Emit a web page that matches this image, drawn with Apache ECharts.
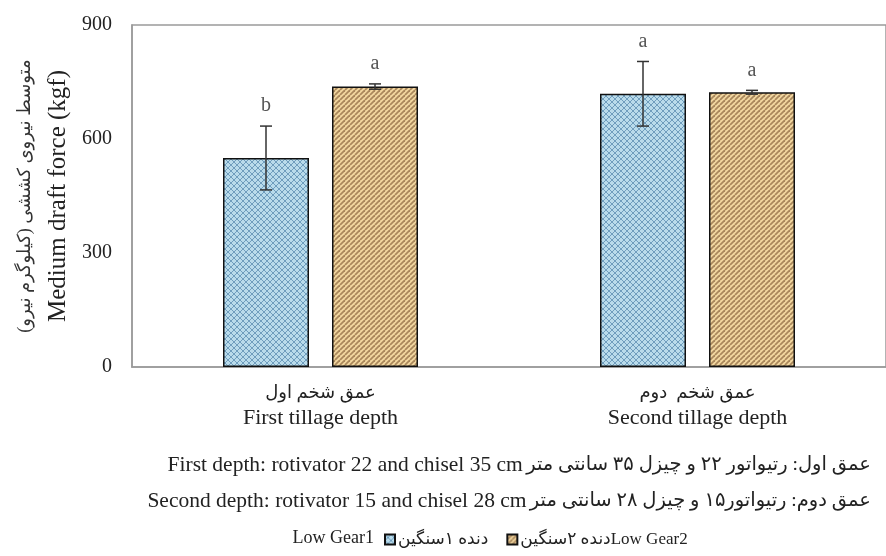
<!DOCTYPE html>
<html>
<head>
<meta charset="utf-8">
<script src="https://cdn.jsdelivr.net/npm/echarts@6/dist/echarts.min.js"></script>
<style>
  html, body { margin: 0; padding: 0; background: #fff; }
  #chart { width: 886px; height: 556px; }
</style>
</head>
<body>
<div id="chart"></div>
<script>
// Draft force per tillage depth, two gear settings
const categoriesFa = ['عمق شخم اول', 'عمق شخم  دوم'];
const categoriesEn = ['First tillage depth', 'Second tillage depth'];
const gear1Mean = [550, 719];
const gear1Err = [84, 85];
const gear2Mean = [738, 723];
const gear2Err = [7, 5];
const gear1Letters = ['b', 'a'];
const gear2Letters = ['a', 'a'];
const yTicks = [0, 300, 600, 900];

const SERIF = '"Liberation Serif", "Times New Roman", "DejaVu Sans", serif';
const BAR_W = 86;
const BAR_GAP = 23;

// Fill textures for the bars
function blueTexture() {
  const c = document.createElement('canvas');
  c.width = 6; c.height = 6;
  const g = c.getContext('2d');
  g.fillStyle = '#b9dbeb';
  g.fillRect(0, 0, 6, 6);
  g.fillStyle = '#6f9dbd';
  // diamond lattice
  const pts = [[0,0],[3,3],[1,1],[2,2],[4,4],[5,5],[0,5],[1,4],[2,3],[4,1],[5,0],[3,2]];
  pts.forEach(p => g.fillRect(p[0], p[1], 1, 1));
  return c;
}
function tanTexture() {
  const c = document.createElement('canvas');
  c.width = 5; c.height = 5;
  const g = c.getContext('2d');
  g.fillStyle = '#f2d7a0';
  g.fillRect(0, 0, 5, 5);
  g.strokeStyle = '#a9875c';
  g.lineWidth = 1.8;
  for (let k = -5; k <= 10; k += 5) {
    g.beginPath();
    g.moveTo(k, 5);
    g.lineTo(k + 5, 0);
    g.stroke();
  }
  return c;
}
const blueFill = { image: blueTexture(), repeat: 'repeat' };
const tanFill = { image: tanTexture(), repeat: 'repeat' };

function errorSeries(name, means, errs, letters, side) {
  return {
    type: 'custom',
    name: name + ' err',
    z: 5,
    silent: true,
    data: means.map((m, i) => [i, m, errs[i]]),
    renderItem: function (params, api) {
      const i = api.value(0);
      const m = api.value(1);
      const e = api.value(2);
      const dx = side * (BAR_W + BAR_GAP) / 2;
      const top = api.coord([i, m + e]);
      const bot = api.coord([i, m - e]);
      const x = top[0] + dx;
      const cap = 6;
      const st = { stroke: '#333', lineWidth: 1.5 };
      return {
        type: 'group',
        children: [
          { type: 'line', shape: { x1: x, y1: top[1], x2: x, y2: bot[1] }, style: st },
          { type: 'line', shape: { x1: x - cap, y1: top[1], x2: x + cap, y2: top[1] }, style: st },
          { type: 'line', shape: { x1: x - cap, y1: bot[1], x2: x + cap, y2: bot[1] }, style: st },
          { type: 'text', style: {
              text: letters[params.dataIndex], x: x, y: top[1] - 20,
              align: 'center', verticalAlign: 'middle',
              font: '20px ' + SERIF, fill: '#555' } }
        ]
      };
    }
  };
}

function noteLine(en, fa, y) {
  return {
    type: 'text', x: 871, y: y,
    style: {
      text: '{en|' + en + '} {fa|' + fa + '}',
      align: 'right', verticalAlign: 'middle',
      rich: {
        en: { fontFamily: SERIF, fontSize: 21.5, fill: '#222' },
        fa: { fontFamily: SERIF, fontSize: 19.5, fill: '#222' }
      }
    }
  };
}

const chart = echarts.init(document.getElementById('chart'), null, { renderer: 'canvas' });
chart.setOption({
  backgroundColor: '#fff',
  animation: false,
  grid: {
    left: 132, top: 25, width: 764, height: 342,
    show: true, borderColor: '#9a9a9a', borderWidth: 1.5, backgroundColor: 'transparent'
  },
  xAxis: {
    type: 'category',
    data: categoriesEn,
    axisLine: { show: true, lineStyle: { color: '#9a9a9a', width: 1.5 } },
    axisTick: { show: false },
    axisLabel: {
      margin: 14,
      formatter: function (v, idx) {
        return '{fa|' + categoriesFa[idx] + '}\n{en|' + v + '}';
      },
      rich: {
        fa: { fontFamily: SERIF, fontSize: 18, color: '#222', lineHeight: 24 },
        en: { fontFamily: SERIF, fontSize: 22, color: '#222', lineHeight: 26 }
      }
    }
  },
  yAxis: {
    type: 'value',
    min: yTicks[0], max: yTicks[yTicks.length - 1], interval: 300,
    splitLine: { show: false },
    axisLine: { show: true, lineStyle: { color: '#9a9a9a', width: 1.5 } },
    axisTick: { show: false },
    axisLabel: { fontFamily: SERIF, fontSize: 20, color: '#222', margin: 20 },
    name: '{fa|متوسط نیروی کششی (کیلوگرم نیرو)}\n{en|Medium draft force (kgf)}',
    nameLocation: 'middle',
    nameRotate: 90,
    nameGap: 56,
    nameTextStyle: {
      rich: {
        fa: { fontFamily: SERIF, fontSize: 18, color: '#333', lineHeight: 36 },
        en: { fontFamily: SERIF, fontSize: 25, color: '#222', lineHeight: 30 }
      }
    }
  },
  legend: {
    data: ['Low Gear1', 'Low Gear2'],
    left: 379, top: 526,
    align: 'left',
    icon: 'rect',
    itemWidth: 10, itemHeight: 10, itemGap: 18,
    formatter: function (n) {
      return n === 'Low Gear1' ? 'دنده ۱سنگین' : 'دنده ۲سنگینLow Gear2';
    },
    textStyle: { fontFamily: SERIF, fontSize: 17, color: '#222', padding: [0, 0, 0, -2] }
  },
  graphic: [
    { type: 'text', x: 374, y: 538,
      style: { text: 'Low Gear1', font: '18px ' + SERIF, fill: '#222', align: 'right', verticalAlign: 'middle' } },
    noteLine('First depth: rotivator 22 and chisel 35 cm', 'عمق اول: رتیواتور ۲۲ و چیزل ۳۵ سانتی متر', 465),
    noteLine('Second depth: rotivator 15 and chisel 28 cm', 'عمق دوم: رتیواتور۱۵ و چیزل ۲۸ سانتی متر', 501)
  ],
  series: [
    {
      name: 'Low Gear1', type: 'bar', data: gear1Mean,
      barWidth: BAR_W, barGap: (BAR_GAP / BAR_W * 100) + '%',
      itemStyle: { color: blueFill, borderColor: '#111', borderWidth: 1.5 }
    },
    {
      name: 'Low Gear2', type: 'bar', data: gear2Mean,
      barWidth: BAR_W,
      itemStyle: { color: tanFill, borderColor: '#111', borderWidth: 1.5 }
    },
    errorSeries('Low Gear1', gear1Mean, gear1Err, gear1Letters, -1),
    errorSeries('Low Gear2', gear2Mean, gear2Err, gear2Letters, 1)
  ]
});
</script>
</body>
</html>
